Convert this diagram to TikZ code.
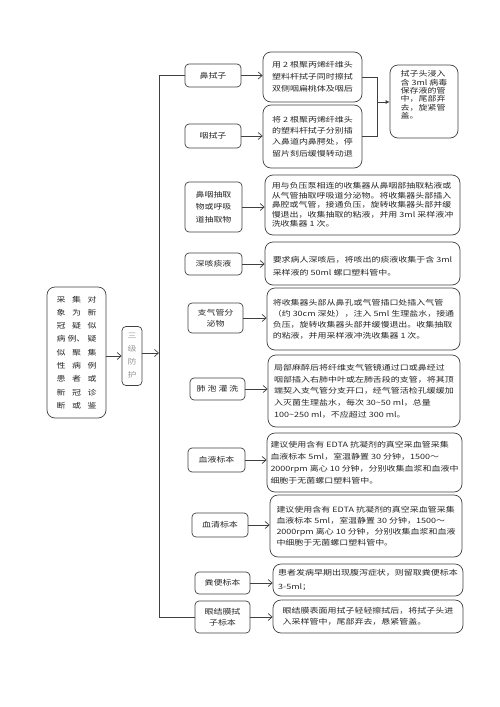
\documentclass[tikz,border=0pt]{standalone}
\usepackage{fontspec}
\setmainfont[FakeStretch=1.23]{Noto Sans CJK SC}
\usetikzlibrary{arrows.meta, positioning}
\tikzset{
	block/.style={draw=black!75, line width=0.7pt, rounded corners=4pt},
	descbox/.style={draw=black!75, line width=0.7pt, rounded corners=8pt},
	link/.style={draw=black!75, line width=0.7pt},
	arr/.style={link, -{Straight Barb[length=4pt, width=7pt]}},
	txt/.style={align=left, inner sep=0pt, text=black!85, font=\fontsize{7.3}{#1}\selectfont},
	txt/.default=11
}
\newcommand\trio[3]{\makebox[15.5pt]{#1}\makebox[15.5pt]{#2}\makebox[15.5pt]{#3}}

\begin{document}
\begin{tikzpicture}[x=1pt, y=-1pt]
		\useasboundingbox (0,0) rectangle (500,707);
		
		\node[descbox, minimum width=59pt, minimum height=131pt] (target) at (76.5,352.5) {};
		\node[txt=13.3, align=center] at (target) {\trio{采}{集}{对}\\ \trio{象}{为}{新}\\ \trio{冠}{疑}{似}\\ \trio{病}{例、}{疑}\\ \trio{似}{聚}{集}\\ \trio{性}{病}{例}\\ \trio{患}{者}{或}\\ \trio{新}{冠}{诊}\\ \trio{断}{或}{鉴}};
		
		\node[block, minimum width=20pt, minimum height=59pt] (grade) at (132,356) {};
		\node[txt=13, align=center, text=black!40] at (grade) {三\\级\\防\\护};
		
		\coordinate (spine) at (159,353);
		
		% sampling types
		\node[block, minimum width=56pt, minimum height=23pt] (nose) at (213,75.5) {};
		\node[txt] at (nose) {鼻拭子};
		
		\node[block, minimum width=56pt, minimum height=24pt] (throat) at (213,136) {};
		\node[txt] at (throat) {咽拭子};
		
		\node[block, minimum width=57pt, minimum height=50pt] (aspirate) at (213.5,207) {};
		\node[txt=12.5, align=center] at (aspirate) {鼻咽抽取\\物或呼吸\\道抽取物};
		
		\node[block, minimum width=57pt, minimum height=22pt] (sputum) at (213.5,264) {};
		\node[txt] at (sputum) {深咳痰液};
		
		\node[block, minimum width=55pt, minimum height=30pt] (bronch) at (215.5,318) {};
		\node[txt=11, align=center] at (bronch) {支气管分\\泌物};
		
		\node[block, minimum width=55pt, minimum height=22pt] (lavage) at (217.5,389) {};
		\node[txt] at (lavage) {肺 泡 灌 洗};
		
		\node[block, minimum width=57pt, minimum height=24pt] (blood) at (216.5,460) {};
		\node[txt] at (blood) {血液标本};
		
		\node[block, minimum width=56pt, minimum height=24pt] (serum) at (220,525) {};
		\node[txt] at (serum) {血清标本};
		
		\node[block, minimum width=55pt, minimum height=22pt] (stool) at (222.5,583) {};
		\node[txt] at (stool) {粪便标本};
		
		\node[block, minimum width=55pt, minimum height=32pt] (eye) at (222.5,617) {};
		\node[txt=11, align=center] at (eye) {眼结膜拭\\子标本};
		
		% descriptions
		\node[descbox, minimum width=99pt, minimum height=50pt] (noseinfo) at (312.5,77) {};
		\node[txt=12.2] at (noseinfo) {用 2 根聚丙烯纤维头\\塑料杆拭子同时擦拭\\双侧咽扁桃体及咽后};
		
		\node[descbox, minimum width=99pt, minimum height=63pt] (throatinfo) at (312.5,136.5) {};
		\node[txt=11.4] at (throatinfo) {将 2 根聚丙烯纤维头\\的塑料杆拭子分别插\\入鼻道内鼻腭处，停\\留片刻后缓慢转动退};
		
		\node[descbox, minimum width=68pt, minimum height=73pt] (swabinfo) at (424,101.5) {};
		\node[txt=8.3, below=6pt of swabinfo.north] {拭子头浸入\\含 3ml 病毒\\保存液的管\\中，尾部弃\\去，旋紧管\\盖。};
		
		\node[descbox, minimum width=195pt, minimum height=60pt] (aspirateinfo) at (362.5,205) {};
		\node[txt=9.4] at (aspirateinfo) {用与负压泵相连的收集器从鼻咽部抽取粘液或\\从气管抽取呼吸道分泌物。将收集器头部插入\\鼻腔或气管，接通负压，旋转收集器头部并缓\\慢退出，收集抽取的粘液，并用 3ml 采样液冲\\洗收集器 1 次。};
		
		\node[descbox, minimum width=195pt, minimum height=43pt] (sputuminfo) at (362.5,263.5) {};
		\node[txt=13.3] at ([yshift=-3pt]sputuminfo) {要求病人深咳后，将咳出的痰液收集于含 3ml\\采样液的 50ml 螺口塑料管中。};
		
		\node[descbox, minimum width=193pt, minimum height=62pt] (bronchinfo) at (363.5,319) {};
		\node[txt=11] at (bronchinfo) {将收集器头部从鼻孔或气管插口处插入气管\\（约 30cm 深处），注入 5ml 生理盐水，接通\\负压，旋转收集器头部并缓慢退出。收集抽取\\的粘液，并用采样液冲洗收集器 1 次。};
		
		\node[descbox, minimum width=192pt, minimum height=72pt] (lavageinfo) at (364,391) {};
		\node[txt=11.7] at (lavageinfo) {局部麻醉后将纤维支气管镜通过口或鼻经过\\咽部插入右肺中叶或左肺舌段的支管，将其顶\\端契入支气管分支开口，经气管活检孔缓缓加\\入灭菌生理盐水，每次 30\textasciitilde50 ml，总量\\100\textasciitilde250 ml，不应超过 300 ml。};
		
		\node[descbox, minimum width=195pt, minimum height=59pt] (bloodinfo) at (364.5,462.5) {};
		\node[txt=12.2] at (bloodinfo) {建议使用含有 EDTA 抗凝剂的真空采血管采集\\血液标本 5ml，室温静置 30 分钟，1500～\\2000rpm 离心 10 分钟，分别收集血浆和血液中\\细胞于无菌螺口塑料管中。};
		
		\node[descbox, minimum width=192pt, minimum height=62pt] (seruminfo) at (366,526) {};
		\node[txt=11] at (seruminfo) {建议使用含有 EDTA 抗凝剂的真空采血管采集\\血液标本 5ml，室温静置 30 分钟，1500～\\2000rpm 离心 10 分钟，分别收集血浆和血液\\中细胞于无菌螺口塑料管中。};
		
		\node[descbox, minimum width=190pt, minimum height=32pt] (stoolinfo) at (368,580) {};
		\node[txt=14] at (stoolinfo) {患者发病早期出现腹泻症状，则留取粪便标本\\3-5ml；};
		
		\node[descbox, minimum width=190pt, minimum height=33pt] (eyeinfo) at (368,616.5) {};
		\node[txt=11] at (eyeinfo) {眼结膜表面用拭子轻轻擦拭后，将拭子头进\\入采样管中，尾部弃去，悬紧管盖。};
		
		\coordinate (join) at (377,102);
		
		\draw[arr] (target.east |- grade.west) -- (grade.west);
		\draw[arr] (grade.east |- spine) -- (spine);
		\draw[link] (nose.west) -| (spine |- eye.west) -- (eye.west);
		
		\draw[arr] (nose.east)     -- (nose.east -| noseinfo.west);
		\draw[arr] (throat.east)   -- (throat.east -| throatinfo.west);
		\draw[arr] (aspirate.east) -- (aspirate.east -| aspirateinfo.west);
		\draw[arr] (sputum.east)   -- (sputum.east -| sputuminfo.west);
		\draw[arr] (bronch.east)   -- (bronch.east -| bronchinfo.west);
		\draw[arr] (lavage.east)   -- (lavage.east -| lavageinfo.west);
		\draw[arr] (blood.east)    -- (blood.east -| bloodinfo.west);
		\draw[arr] (serum.east)    -- (serum.east -| seruminfo.west);
		\draw[arr] (stool.east)    -- (stool.east -| stoolinfo.west);
		\draw[arr] (eye.east)      -- (eye.east -| eyeinfo.west);
		
		\draw[link] (noseinfo.east) -| (join);
		\draw[link] (throatinfo.east) -| (join);
		\draw[link, -{Latex[length=4pt, width=4pt]}] (join) -- (swabinfo.west |- join);
	\end{tikzpicture}
\end{document}
